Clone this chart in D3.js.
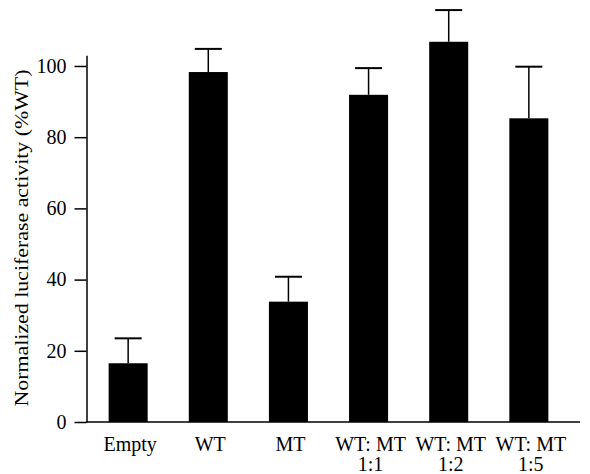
<!DOCTYPE html>
<html>
<head>
<meta charset="utf-8">
<script src="https://cdn.jsdelivr.net/npm/d3@7"></script>
<style>
  body { margin: 0; background: #fff; }
  svg text { font-family: "Liberation Serif", "Times New Roman", serif; fill: #000; }
</style>
</head>
<body>
<div id="chart"></div>
<script>
// groups, two-line labels, means and upward error (SD)
var groups = ["Empty", "WT", "MT", "WT:MT 1:1", "WT:MT 1:2", "WT:MT 1:5"];
var labelTop = ["Empty", "WT", "MT", "WT: MT", "WT: MT", "WT: MT"];
var labelBottom = ["", "", "", "1:1", "1:2", "1:5"];
var means = [16.5, 98.3, 33.8, 91.9, 106.8, 85.3];
var errors = [7, 6.5, 7, 7.5, 8.9, 14.5];
var yTicks = [0, 20, 40, 60, 80, 100];

var width = 590, height = 474;

var svg = d3.select("#chart").append("svg")
  .attr("width", width)
  .attr("height", height);

var x = d3.scaleBand()
  .domain(groups)
  .range([87, 570])
  .paddingInner(0.513)
  .paddingOuter(0.27);

var y = d3.scaleLinear()
  .domain([0, 103])
  .range([422, 55.3]);

// bars
svg.selectAll(".bar")
  .data(groups)
  .enter()
  .append("rect")
  .attr("class", "bar")
  .attr("x", function(d) { return x(d); })
  .attr("width", x.bandwidth())
  .attr("y", function(d, i) { return y(means[i]); })
  .attr("height", function(d, i) { return y(0) - y(means[i]); })
  .style("fill", "#000");

// error bars (upward only)
var capW = 27;
svg.selectAll(".err")
  .data(groups)
  .enter()
  .append("line")
  .attr("class", "err")
  .attr("x1", function(d) { return x(d) + x.bandwidth() / 2; })
  .attr("x2", function(d) { return x(d) + x.bandwidth() / 2; })
  .attr("y1", function(d, i) { return y(means[i]); })
  .attr("y2", function(d, i) { return y(means[i] + errors[i]); })
  .style("stroke", "#000")
  .style("stroke-width", 1.5);

svg.selectAll(".cap")
  .data(groups)
  .enter()
  .append("line")
  .attr("class", "cap")
  .attr("x1", function(d) { return x(d) + x.bandwidth() / 2 - capW / 2; })
  .attr("x2", function(d) { return x(d) + x.bandwidth() / 2 + capW / 2; })
  .attr("y1", function(d, i) { return y(means[i] + errors[i]); })
  .attr("y2", function(d, i) { return y(means[i] + errors[i]); })
  .style("stroke", "#000")
  .style("stroke-width", 2);

// y axis
var yAxis = svg.append("g")
  .attr("transform", "translate(86.5,0)")
  .call(d3.axisLeft(y).tickValues(yTicks).tickSize(12).tickSizeOuter(0).tickPadding(8));
yAxis.select(".domain").style("stroke-width", 1.5);
yAxis.selectAll(".tick line").style("stroke-width", 1.5);
yAxis.selectAll(".tick text")
  .style("font-size", "20px")
  .style("font-family", "Liberation Serif, serif");

// x baseline
svg.append("line")
  .attr("x1", 86)
  .attr("x2", 580)
  .attr("y1", y(0))
  .attr("y2", y(0))
  .style("stroke", "#000")
  .style("stroke-width", 1.5);

// x labels
var xl = svg.selectAll(".xlabel")
  .data(groups)
  .enter()
  .append("text")
  .attr("class", "xlabel")
  .attr("text-anchor", "middle")
  .style("font-size", "20px");
xl.append("tspan")
  .attr("x", function(d) { return x(d) + x.bandwidth() / 2 + 2; })
  .attr("y", 451)
  .text(function(d, i) { return labelTop[i]; });
xl.append("tspan")
  .attr("x", function(d) { return x(d) + x.bandwidth() / 2 + 2; })
  .attr("y", 471)
  .text(function(d, i) { return labelBottom[i]; });

// y title
svg.append("text")
  .attr("transform", "translate(28,238) rotate(-90)")
  .attr("text-anchor", "middle")
  .attr("textLength", 337)
  .attr("lengthAdjust", "spacingAndGlyphs")
  .style("font-size", "19px")
  .text("Normalized luciferase activity (%WT)");
</script>
</body>
</html>
